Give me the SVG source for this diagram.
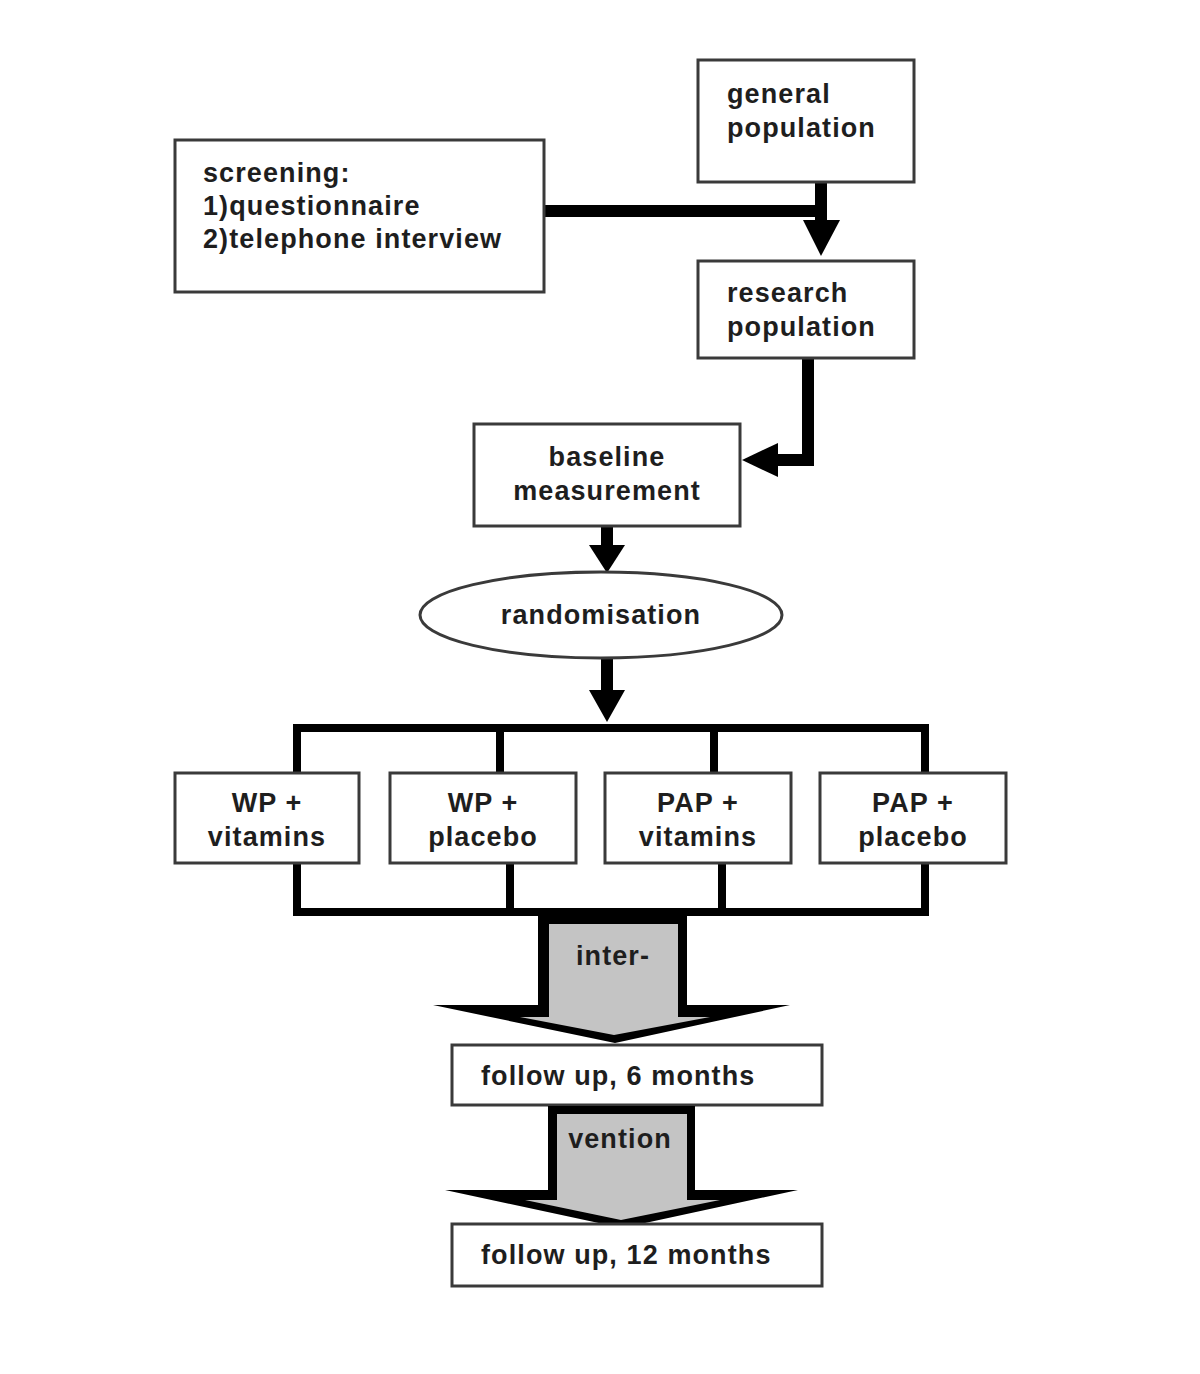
<svg xmlns="http://www.w3.org/2000/svg" width="1200" height="1374" viewBox="0 0 1200 1374">
<style>
.box{fill:#fff;stroke:#3a3a3a;stroke-width:3}
.t{font-family:"Liberation Sans",Arial,sans-serif;font-weight:bold;font-size:27px;letter-spacing:1.1px;fill:#1e1e1e}
.c{text-anchor:middle}
.ln{stroke:#000;fill:none}
.ah{fill:#000}
.outer{fill:#000}
.inner{fill:#c4c4c4}
</style>
<rect width="1200" height="1374" fill="#fff"/>
<g id="connectors">
  <path class="ln" stroke-width="12" d="M544,211 H821 M821,182 V222"/>
  <polygon class="ah" points="803,220 840,220 821,256"/>
  <path class="ln" stroke-width="12" d="M808,358 V460 H775"/>
  <polygon class="ah" points="778,443 778,477 742,460"/>
  <path class="ln" stroke-width="12" d="M607,526 V548"/>
  <polygon class="ah" points="589,545 625,545 607,573"/>
  <path class="ln" stroke-width="12" d="M607,658 V692"/>
  <polygon class="ah" points="589,690 625,690 607,722"/>
  <path class="ln" stroke-width="8" d="M297,773 V728 H925 V773 M500,728 V773 M714,728 V773"/>
  <path class="ln" stroke-width="8" d="M297,863 V912 H925 V863 M510,863 V912 M722,863 V912"/>
  <polygon class="outer" points="538,912 687,912 687,1005 790,1005 615,1043 433,1005 538,1005"/>
  <polygon class="inner" points="549,924 678,924 678,1017 710,1017 614,1035 520,1017 549,1017"/>
</g>
<g id="general-population">
  <rect class="box" x="698" y="60" width="216" height="122"/>
  <text class="t" x="727" y="103">general</text>
  <text class="t" x="727" y="137">population</text>
</g>
<g id="screening">
  <rect class="box" x="175" y="140" width="369" height="152"/>
  <text class="t" x="203" y="182">screening:</text>
  <text class="t" x="203" y="215">1)questionnaire</text>
  <text class="t" x="203" y="248">2)telephone interview</text>
</g>
<g id="research-population">
  <rect class="box" x="698" y="261" width="216" height="97"/>
  <text class="t" x="727" y="302">research</text>
  <text class="t" x="727" y="336">population</text>
</g>
<g id="baseline-measurement">
  <rect class="box" x="474" y="424" width="266" height="102"/>
  <text class="t c" x="607" y="466">baseline</text>
  <text class="t c" x="607" y="500">measurement</text>
</g>
<g id="randomisation">
  <ellipse class="box" cx="601" cy="615" rx="181" ry="43"/>
  <text class="t c" x="601" y="624">randomisation</text>
</g>
<g id="wp-vitamins">
  <rect class="box" x="175" y="773" width="184" height="90"/>
  <text class="t c" x="267" y="812">WP +</text>
  <text class="t c" x="267" y="846">vitamins</text>
</g>
<g id="wp-placebo">
  <rect class="box" x="390" y="773" width="186" height="90"/>
  <text class="t c" x="483" y="812">WP +</text>
  <text class="t c" x="483" y="846">placebo</text>
</g>
<g id="pap-vitamins">
  <rect class="box" x="605" y="773" width="186" height="90"/>
  <text class="t c" x="698" y="812">PAP +</text>
  <text class="t c" x="698" y="846">vitamins</text>
</g>
<g id="pap-placebo">
  <rect class="box" x="820" y="773" width="186" height="90"/>
  <text class="t c" x="913" y="812">PAP +</text>
  <text class="t c" x="913" y="846">placebo</text>
</g>
<g id="follow-up-6">
  <rect class="box" x="452" y="1045" width="370" height="60"/>
  <text class="t" x="481" y="1085">follow up, 6 months</text>
</g>
<g id="arrow-2">
  <polygon class="outer" points="548,1106 695,1106 695,1190 798,1190 622,1228 445,1190 548,1190"/>
  <polygon class="inner" points="557,1114 687,1114 687,1200 720,1200 621,1220 525,1200 557,1200"/>
</g>
<g id="intervention-labels">
  <text class="t c" x="613" y="965">inter-</text>
  <text class="t c" x="620" y="1148">vention</text>
</g>
<g id="follow-up-12">
  <rect class="box" x="452" y="1224" width="370" height="62"/>
  <text class="t" x="481" y="1264">follow up, 12 months</text>
</g>
</svg>
